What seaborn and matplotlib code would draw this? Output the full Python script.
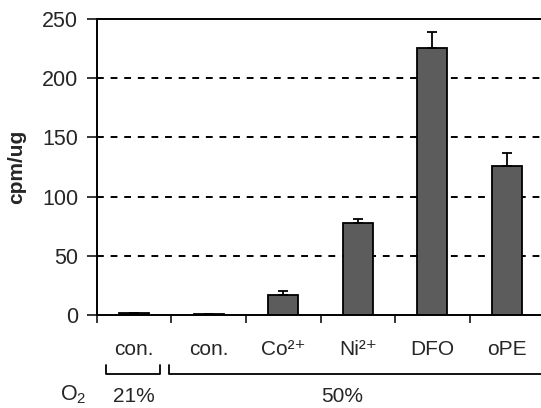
import matplotlib
matplotlib.use("Agg")
import matplotlib.pyplot as plt
import matplotlib.transforms as mtransforms
import pandas as pd
import seaborn as sns

# values
groups = ["con21", "con50", "Co", "Ni", "DFO", "oPE"]
tick_labels = ["con.", "con.", "Co²⁺", "Ni²⁺", "DFO", "oPE"]
means = [2, 1, 17, 78, 226, 126]
errors = [0, 0, 3, 3, 13, 11]
y_ticks = [0, 50, 100, 150, 200, 250]

sns.set_style("white")
plt.rcParams["font.family"] = ["Liberation Sans", "DejaVu Sans"]
plt.rcParams["mathtext.fontset"] = "custom"
plt.rcParams["mathtext.rm"] = "Liberation Sans"

df = pd.DataFrame({"group": groups, "value": means})

fig = plt.figure(figsize=(5.41, 4.08), dpi=100)
ax = fig.add_axes([0.179, 0.228, 0.827, 0.725])

for y in y_ticks[1:-1]:
    ax.axhline(y, color="black", lw=1.4, ls=(0, (3.5, 3.5)), zorder=0)

sns.barplot(data=df, x="group", y="value", order=groups, color="#5c5c5c",
            edgecolor="black", linewidth=1.3, width=0.4, saturation=1, ax=ax, zorder=2)
ax.errorbar(range(len(groups)), means, yerr=[[0] * len(groups), errors], fmt="none",
            ecolor="black", elinewidth=1.3, capsize=3.5, capthick=1.3, zorder=3)

ax.set_xlim(-0.5, 5.5)
ax.set_ylim(0, 250)
ax.set_yticks(y_ticks)
ax.tick_params(axis="y", labelsize=15.5, length=7, width=1.3, direction="out", left=True, pad=6.5)
ax.set_xticks([i - 0.5 for i in range(len(groups) + 1)])
ax.set_xticklabels([])
ax.tick_params(axis="x", which="major", length=6, width=1.3, direction="out", bottom=True)
ax.set_xticks(range(len(groups)), minor=True)
ax.set_xticklabels(tick_labels, minor=True)
ax.tick_params(axis="x", which="minor", length=0, labelsize=15, pad=18)
ax.set_xlabel("")
ax.set_ylabel("cpm/ug", fontsize=15, fontweight="bold", labelpad=11)

for side in ["left", "bottom", "top"]:
    ax.spines[side].set_visible(True)
    ax.spines[side].set_color("black")
    ax.spines[side].set_linewidth(1.4)
ax.spines["right"].set_visible(False)

# O2 brackets below the axis
trans = mtransforms.blended_transform_factory(ax.transData, ax.transAxes)
for x0, x1 in [(-0.38, 0.346), (0.466, 5.6)]:
    ax.plot([x0, x0, x1, x1], [-0.169, -0.199, -0.199, -0.169], color="black", lw=1.3,
            transform=trans, clip_on=False)
ax.text(0.0, -0.294, "21%", transform=trans, ha="center", va="baseline", fontsize=15)
ax.text(2.79, -0.294, "50%", transform=trans, ha="center", va="baseline", fontsize=15)
fig.text(60 / 541, 1 - 400 / 408, "O$_2$", ha="left", va="baseline", fontsize=15.5)

fig.savefig("out.png", dpi=100)
